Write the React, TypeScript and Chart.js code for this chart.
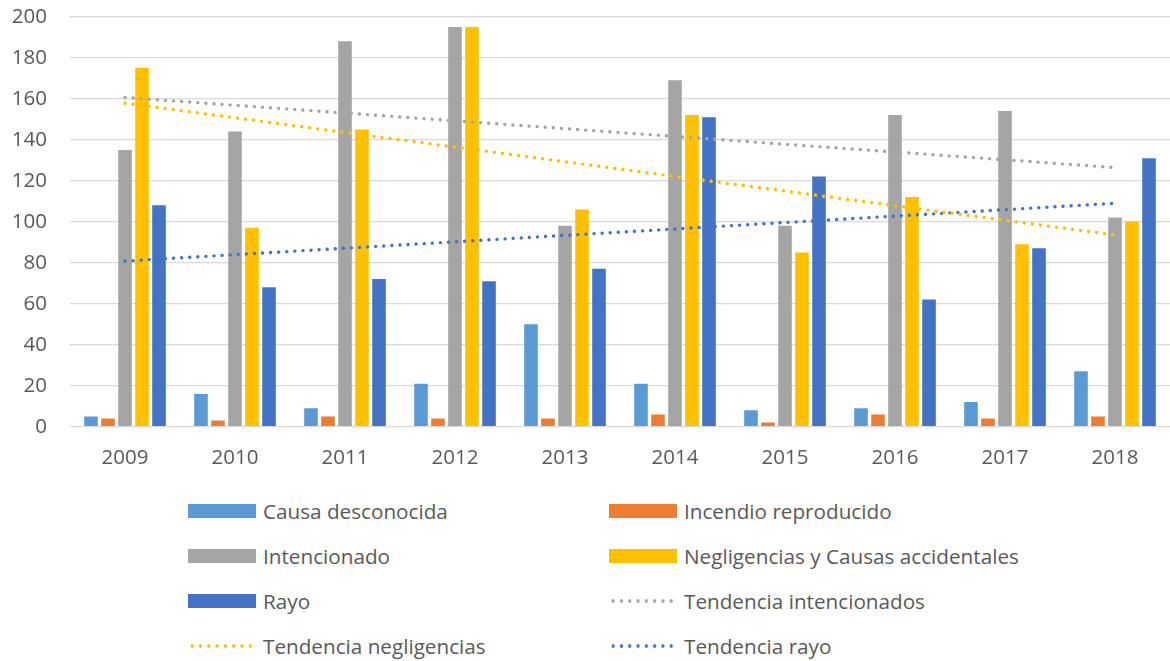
import React, { useEffect, useRef } from "react";
import { Chart, registerables } from "chart.js";

Chart.register(...registerables);

// ---- Data ----
const years = ["2009", "2010", "2011", "2012", "2013", "2014", "2015", "2016", "2017", "2018"];
const causaDesconocida = [5, 16, 9, 21, 50, 21, 8, 9, 12, 27];
const incendioReproducido = [4, 3, 5, 4, 4, 6, 2, 6, 4, 5];
const intencionado = [135, 144, 188, 195, 98, 169, 98, 152, 154, 102];
const negligencias = [175, 97, 145, 195, 106, 152, 85, 112, 89, 100];
const rayo = [108, 68, 72, 71, 77, 151, 122, 62, 87, 131];
// trend lines: values read at first and last year
const tendenciaIntencionados = [160.6, null, null, null, null, null, null, null, null, 126.4];
const tendenciaNegligencias = [157.8, null, null, null, null, null, null, null, null, 93.5];
const tendenciaRayo = [80.8, null, null, null, null, null, null, null, null, 109.0];
const yMin = 0;
const yMax = 200;
const yStep = 20;

const COLORS = {
  causa: "#5B9BD5",
  incendio: "#ED7D31",
  intencionado: "#A5A5A5",
  negligencias: "#FFC000",
  rayo: "#4472C4",
};

const FONT = "'Open Sans', 'Noto Sans', sans-serif";
const TEXT = "#595959";

const legendItems = [
  { label: "Causa desconocida", color: COLORS.causa, kind: "bar" },
  { label: "Incendio reproducido", color: COLORS.incendio, kind: "bar" },
  { label: "Intencionado", color: COLORS.intencionado, kind: "bar" },
  { label: "Negligencias y Causas accidentales", color: COLORS.negligencias, kind: "bar" },
  { label: "Rayo", color: COLORS.rayo, kind: "bar" },
  { label: "Tendencia intencionados", color: COLORS.intencionado, kind: "dots" },
  { label: "Tendencia negligencias", color: COLORS.negligencias, kind: "dots" },
  { label: "Tendencia rayo", color: COLORS.rayo, kind: "dots" },
];

export default function App() {
  const canvasRef = useRef<HTMLCanvasElement | null>(null);

  useEffect(() => {
    if (!canvasRef.current) return;
    const barDs = (label: string, data: number[], color: string) => ({
      type: "bar" as const,
      label,
      data,
      backgroundColor: color,
      borderWidth: 0,
      order: 1,
      categoryPercentage: 0.773,
      barPercentage: 0.8,
    });
    const trendDs = (label: string, data: (number | null)[], color: string) => ({
      type: "line" as const,
      label,
      data,
      borderColor: color,
      backgroundColor: color,
      borderWidth: 3.4,
      borderDash: [0.1, 8],
      borderCapStyle: "round" as const,
      pointRadius: 0,
      spanGaps: true,
      fill: false,
      tension: 0,
      order: 0,
    });

    const chart = new Chart(canvasRef.current, {
      type: "bar",
      data: {
        labels: years,
        datasets: [
          barDs("Causa desconocida", causaDesconocida, COLORS.causa),
          barDs("Incendio reproducido", incendioReproducido, COLORS.incendio),
          barDs("Intencionado", intencionado, COLORS.intencionado),
          barDs("Negligencias y Causas accidentales", negligencias, COLORS.negligencias),
          barDs("Rayo", rayo, COLORS.rayo),
          trendDs("Tendencia intencionados", tendenciaIntencionados, COLORS.intencionado),
          trendDs("Tendencia negligencias", tendenciaNegligencias, COLORS.negligencias),
          trendDs("Tendencia rayo", tendenciaRayo, COLORS.rayo),
        ] as any,
      },
      options: {
        responsive: false,
        animation: false,
        layout: { padding: { top: 0, right: 0, bottom: 0, left: 0 } },
        plugins: {
          legend: { display: false },
          tooltip: { enabled: false },
        },
        scales: {
          x: {
            grid: { display: false, drawTicks: false },
            border: { display: false },
            ticks: {
              color: TEXT,
              font: { family: FONT, size: 20.5 },
              padding: 19,
              maxRotation: 0,
            },
            afterFit: (scale: any) => {
              scale.height = 43.3;
            },
          },
          y: {
            min: yMin,
            max: yMax,
            grid: { color: "#D9D9D9", lineWidth: 1.3, drawTicks: false },
            border: { display: false },
            ticks: {
              stepSize: yStep,
              color: TEXT,
              font: { family: FONT, size: 20.5 },
              padding: 23,
            },
            afterFit: (scale: any) => {
              scale.width = 70;
              scale.paddingTop = 16.7;
              scale.paddingBottom = 0;
            },
          },
        },
      } as any,
    });
    return () => chart.destroy();
  }, []);

  return (
    <div
      style={{
        position: "fixed",
        left: 0,
        top: 0,
        width: 1170,
        height: 661,
        background: "#ffffff",
        overflow: "hidden",
        fontFamily: FONT,
      }}
    >
      <canvas
        ref={canvasRef}
        width={1170}
        height={470}
        style={{ position: "absolute", left: 0, top: 0, width: 1170, height: 470 }}
      />
      {legendItems.map((item, i) => {
        const col = i % 2;
        const row = Math.floor(i / 2);
        const cy = 511 + row * 45;
        const swatchLeft = col === 0 ? 188 : 609;
        const textLeft = col === 0 ? 263 : 684;
        const swatchStyle: React.CSSProperties =
          item.kind === "bar"
            ? {
                position: "absolute",
                left: swatchLeft,
                top: cy - 7,
                width: 68,
                height: 14,
                background: item.color,
              }
            : {
                position: "absolute",
                left: swatchLeft,
                top: cy - 2,
                width: 68,
                height: 4,
                backgroundImage: `radial-gradient(circle, ${item.color} 1.5px, transparent 2px)`,
                backgroundSize: "8.3px 4px",
                backgroundRepeat: "repeat-x",
              };
        return (
          <React.Fragment key={item.label}>
            <div style={swatchStyle} />
            <div
              style={{
                position: "absolute",
                left: textLeft,
                top: cy - 14,
                height: 28,
                lineHeight: "28px",
                fontSize: 20.7,
                color: TEXT,
                whiteSpace: "nowrap",
              }}
            >
              {item.label}
            </div>
          </React.Fragment>
        );
      })}
    </div>
  );
}
